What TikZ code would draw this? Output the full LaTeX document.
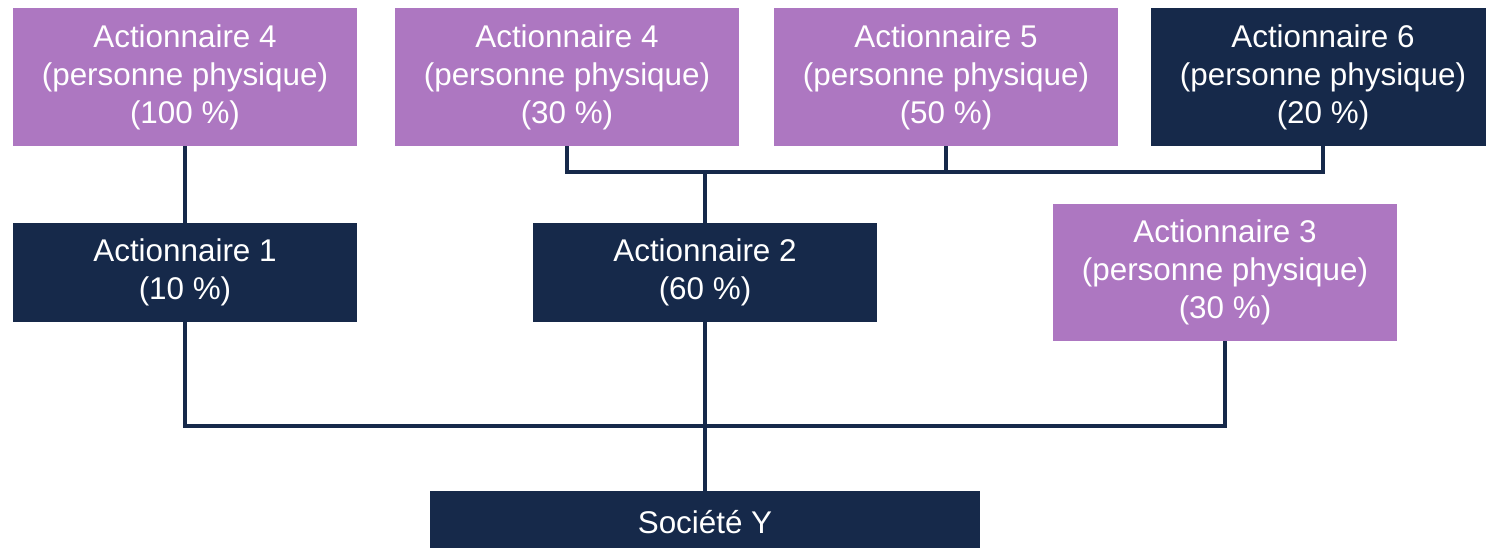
\documentclass[tikz,border=0pt]{standalone}
\usepackage{fontspec}
\setmainfont{Liberation Sans}
\definecolor{mauve}{RGB}{173,119,193}
\definecolor{navy}{RGB}{22,41,74}
\begin{document}
\begin{tikzpicture}[x=1pt,y=-1pt,
  holder/.style={fill=mauve,text=white,inner sep=0pt,align=center,
    minimum width=344pt,minimum height=138pt,
    font=\fontsize{31.4pt}{38pt}\selectfont},
  darkholder/.style={holder,fill=navy},
  link/.style={draw=navy,line width=4.5pt,line join=miter}]
\useasboundingbox (0,0) rectangle (1486,547);

% top row of shareholders
\node[holder] (a4l) at (185,77) {Actionnaire 4\\(personne physique)\\(100 \%)};
\node[holder] (a4m) at (567,77) {Actionnaire 4\\(personne physique)\\(30 \%)};
\node[holder] (a5) at (946,77) {Actionnaire 5\\(personne physique)\\(50 \%)};
\node[darkholder] (a6) at (1323,77) {Actionnaire 6\\(personne physique)\\(20 \%)};

% middle row
\node[darkholder,minimum height=99pt] (a1) at (185,272.5) {Actionnaire 1\\(10 \%)};
\node[darkholder,minimum height=99pt] (a2) at (705,272.5) {Actionnaire 2\\(60 \%)};
\node[holder,minimum height=137pt] (a3) at (1225,272.5) {Actionnaire 3\\(personne physique)\\(30 \%)};

% company
\node[darkholder,minimum width=550pt,minimum height=62pt] (soc) at (705,522) {Société Y};

% ownership links
\coordinate (tb) at (705,172);
\coordinate (bb) at (705,426);
\draw[link] (a4l.south) -- (a1.north);
\draw[link] (a4m.south) |- (tb) -| (a6.south);
\draw[link] (a5.south) -- (a5.south |- tb);
\draw[link] (tb) -- (a2.north);
\draw[link] (a1.south) |- (bb) -| (a3.south);
\draw[link] (a2.south) -- (soc.north);
\end{tikzpicture}
\end{document}
